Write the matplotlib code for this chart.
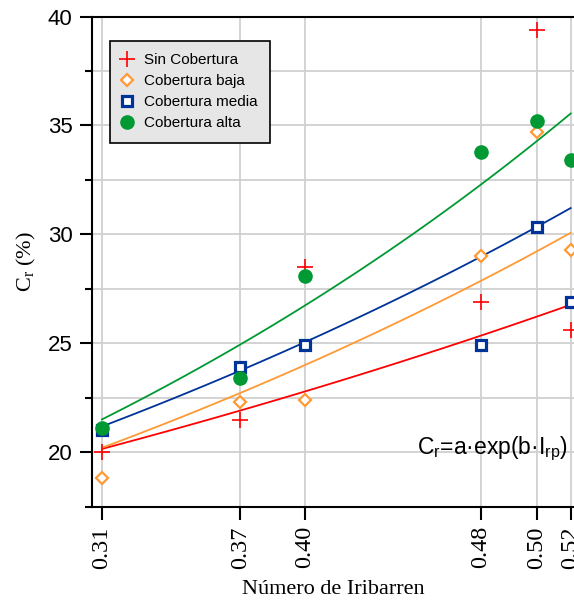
import numpy as np
import matplotlib
matplotlib.use('Agg')
import matplotlib.pyplot as plt

plt.rcParams['font.family'] = 'Liberation Sans'
plt.rcParams['mathtext.fontset'] = 'custom'
plt.rcParams['mathtext.rm'] = 'Liberation Serif'
plt.rcParams['mathtext.sf'] = 'Liberation Sans'

# Iribarren number of each test and the rounded tick labels
iribarren = [0.31, 0.3713, 0.40, 0.478, 0.503, 0.518]
tick_labels = ['0.31', '0.37', '0.40', '0.48', '0.50', '0.52']

# Cr (%) per cover level
sin_cob = [20.0, 21.5, 28.5, 26.9, 39.4, 25.6]
cob_baja = [18.8, 22.3, 22.4, 29.0, 34.7, 29.3]
cob_media = [21.0, 23.9, 24.9, 24.9, 30.35, 26.9]
cob_alta = [21.1, 23.4, 28.1, 33.8, 35.2, 33.4]

# fitted Cr = a*exp(b*Irp) for each series (a, b)
fit_sin = (13.20, 1.365)
fit_baja = (11.17, 1.912)
fit_media = (11.89, 1.863)
fit_alta = (10.17, 2.416)

c_red = '#ff0000'
c_orange = '#ff9933'
c_blue = '#003399'
c_green = '#009933'

fig = plt.figure(figsize=(5.74, 6.01), dpi=100)
ax = fig.add_axes([0.1603, 0.1569, 0.8397, 0.8156])

xf = np.linspace(iribarren[0], iribarren[-1], 100)
for (a, b), col in [(fit_sin, c_red), (fit_baja, c_orange),
                    (fit_media, c_blue), (fit_alta, c_green)]:
    ax.plot(xf, a * np.exp(b * xf), color=col, lw=1.3, zorder=3)

ax.plot(iribarren, sin_cob, '+', color=c_red, ms=11, mew=1.2,
        label='Sin Cobertura', zorder=4)
ax.plot(iribarren, cob_baja, 'D', color=c_orange, mfc='white', ms=6.5,
        mew=1.6, label='Cobertura baja', zorder=4)
ax.plot(iribarren, cob_media, 's', color=c_blue, mfc='white', ms=7,
        mew=2.3, label='Cobertura media', zorder=4)
ax.plot(iribarren, cob_alta, 'o', color=c_green, ms=9.5,
        label='Cobertura alta', zorder=4)

ax.set_xlim(0.30557, 0.51946)
ax.set_ylim(17.5, 40)
ax.set_xticks(iribarren)
ax.set_xticklabels(tick_labels, rotation=90, family='Liberation Serif',
                   fontsize=17.5)
ax.set_yticks([20, 25, 30, 35, 40])
ax.set_yticks([17.5, 22.5, 27.5, 32.5, 37.5], minor=True)
ax.tick_params(axis='y', labelsize=16, length=9, width=1.5, pad=5)
ax.tick_params(axis='y', which='minor', length=5, width=1.5)
ax.tick_params(axis='x', length=9, width=1.5, pad=5)

ax.grid(True, which='both', color='#d0d0d0', lw=1.3, zorder=0)
ax.set_axisbelow(True)
for s in ['left', 'bottom', 'top']:
    ax.spines[s].set_linewidth(1.5)
ax.spines['right'].set_visible(False)

ax.set_xlabel('Número de Iribarren', family='Liberation Serif',
              fontsize=16, labelpad=8)
ax.set_ylabel(r'C$_\mathrm{r}$ (%)', family='Liberation Serif',
              fontsize=16, labelpad=7)

ax.text(0.6743, 0.1075, r'C$_\mathsf{r}$=a·exp(b·I$_\mathsf{rp}$)',
        transform=ax.transAxes, fontsize=16.5, zorder=5)

leg = ax.legend(loc='upper left', bbox_to_anchor=(0.0373, 0.950),
                borderaxespad=0, fontsize=11, fancybox=False,
                framealpha=1, facecolor='#e6e6e6', edgecolor='black',
                labelspacing=0.46, handlelength=0.65, handletextpad=0.8,
                borderpad=0.8)
leg.get_frame().set_linewidth(1.2)

plt.savefig('out.png', dpi=100)
plt.close()
